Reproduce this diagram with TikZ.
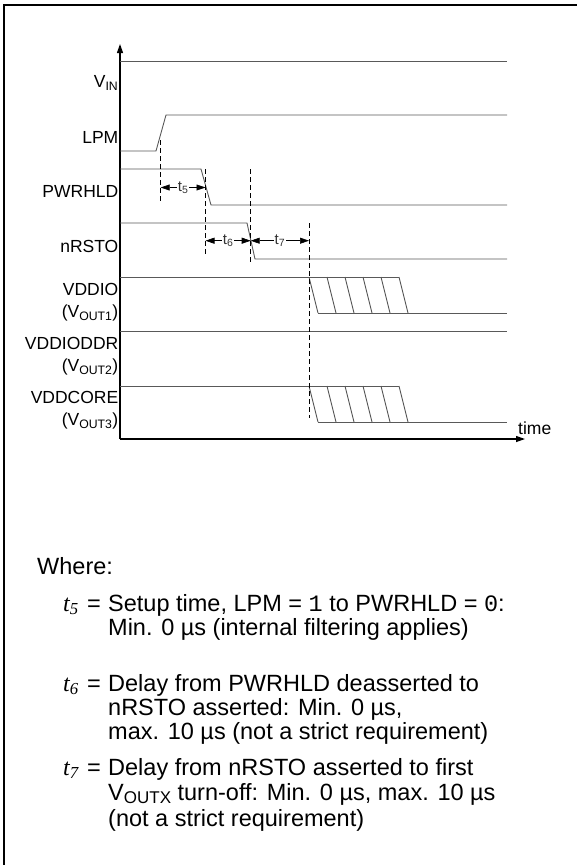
\documentclass[tikz,border=0pt]{standalone}
\usepackage{fontspec}
\setmainfont{Liberation Sans}
\newfontfamily\timesit{Liberation Serif}
\newfontfamily\courier{Liberation Mono}
\usetikzlibrary{arrows.meta}

\tikzset{
  sig/.style={black!65, line width=0.9pt},
  axisline/.style={line width=1.2pt, -{Triangle[length=9pt,width=6pt]}},
  guide/.style={dash pattern=on 5pt off 3pt, line width=0.6pt},
  span/.style={{Triangle[length=9pt,width=6pt]}-{Triangle[length=9pt,width=6pt]}, line width=0.6pt},
  siglabel/.style={anchor=east, inner sep=0pt, font=\fontsize{17.5}{19}\selectfont},
  spanlabel/.style={fill=white, inner sep=1pt, font=\fontsize{15}{16}\selectfont, text=black!80},
  body/.style={anchor=base west, inner sep=0pt, font=\fontsize{23.5}{26}\selectfont},
  tname/.style={body, font=\fontsize{24}{26}\timesit\itshape},
}

\begin{document}
\begin{tikzpicture}[x=1pt, y=-1pt]
    \useasboundingbox (0,0) rectangle (577,865);
    \draw[line width=2pt] (4,865) -- (4,5) -- (577,5);
    \coordinate (O) at (120,439);
    \draw[axisline] (O) -- (120,44);
    \draw[axisline] (O) -- (525,439);
    \node[anchor=base west, inner sep=0pt, font=\fontsize{17.5}{19}\selectfont] (time) at (518,434) {time};
    \draw[sig] (120,61) -- (507,61);
    \draw[sig] (120,151) -- (156,151) -- (166,115) -- (507,115);
    \draw[sig] (120,169) -- (201,169) -- (211,205) -- (507,205);
    \draw[sig] (120,223) -- (247,223) -- (255,259) -- (507,259);
    \draw[sig] (120,331) -- (507,331);
    \foreach \hi/\lo in {277/313, 386/422}
      { \draw[sig] (120,\hi) -- (399,\hi);
        \draw[sig] (318,\lo) -- (507,\lo);
        \foreach \x in {309,327,...,399} \draw[sig] (\x,\hi) -- ++(9,36); }
    \coordinate (g1a) at (160.7,140);  \coordinate (g1b) at (160.7,202);
    \coordinate (g2a) at (205.5,169);  \coordinate (g2b) at (205.5,256);
    \coordinate (g3a) at (250.7,169);  \coordinate (g3b) at (250.7,262);
    \coordinate (g4a) at (309,223);    \coordinate (g4b) at (309,418);
    \foreach \g in {g1,g2,g3,g4} \draw[guide] (\g a) -- (\g b);
    \draw[span] (g1a |- 0,187.5) -- node[spanlabel] (t5lab) {t\textsubscript{5}} (g2a |- 0,187.5);
    \draw[span] (g2a |- 0,240.7) -- node[spanlabel] (t6lab) {t\textsubscript{6}} (g3a |- 0,240.7);
    \draw[span] (g3a |- 0,240.7) -- node[spanlabel] (t7lab) {t\textsubscript{7}} (g4a |- 0,240.7);
    \foreach \n/\y/\txt in {vin/83/V\textsubscript{IN}, lpm/137/LPM, pwrhld/191/PWRHLD, nrsto/246/nRSTO,
        vddio/289/VDDIO, vout1/313/(V\textsubscript{OUT1}), vddioddr/343/VDDIODDR, vout2/367/(V\textsubscript{OUT2}),
        vddcore/397/VDDCORE, vout3/421/(V\textsubscript{OUT3})}
      \node[siglabel] (\n) at (118.5,\y) {\txt};
    \node[body] (where) at (37,574) {Where:};
    \foreach \n/\y in {5/611, 6/691, 7/775}
      { \node[tname] (t\n) at (63,\y) {t\textsubscript{\n}};
        \node[body] (eq\n) at (87,\y) {=}; }
    \node[body] (l51) at (108,611) {Setup time, LPM = {\courier 1} to PWRHLD = {\courier 0}:};
    \node[body] (l52) at (108,635) {Min. 0 µs (internal filtering applies)};
    \node[body] (l61) at (108,691) {Delay from PWRHLD deasserted to};
    \node[body] (l62) at (108,715) {nRSTO asserted: Min. 0 µs,};
    \node[body] (l63) at (108,739) {max. 10 µs (not a strict requirement)};
    \node[body] (l71) at (108,775) {Delay from nRSTO asserted to first};
    \node[body] (l72) at (108,800) {V\raisebox{-3pt}{\fontsize{17}{17}\selectfont OUTX} turn-off: Min. 0 µs, max. 10 µs};
    \node[body] (l73) at (108,826) {(not a strict requirement)};
\end{tikzpicture}
\end{document}
